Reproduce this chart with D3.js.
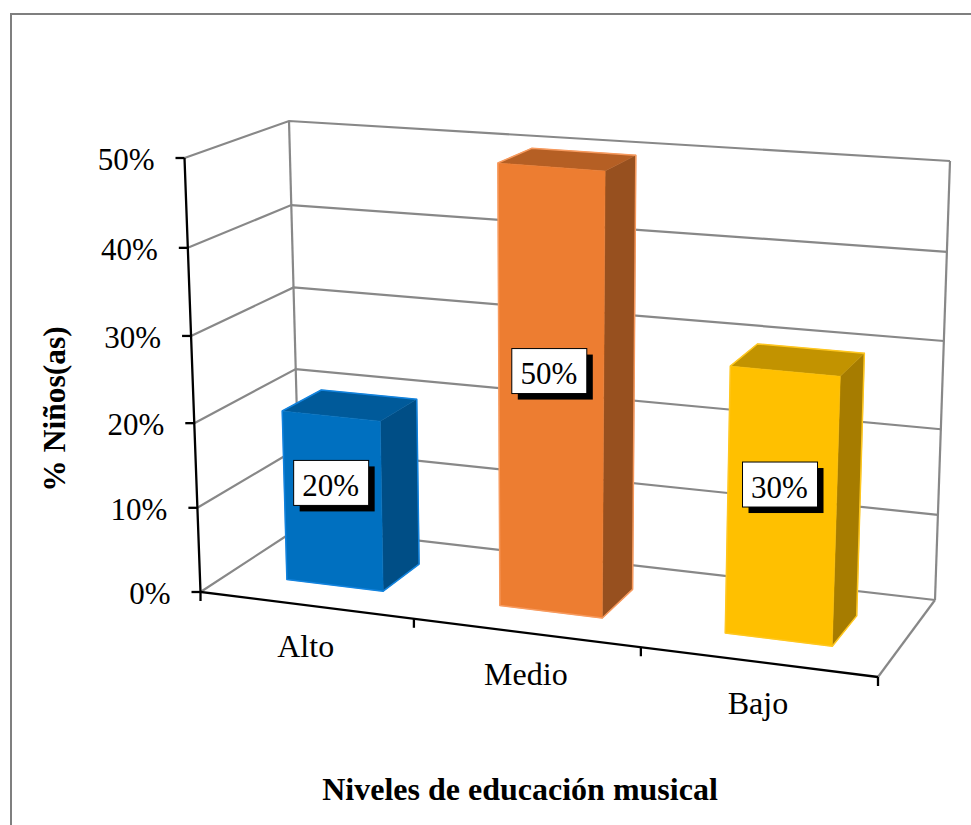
<!DOCTYPE html>
<html>
<head>
<meta charset="utf-8">
<script src="https://cdn.jsdelivr.net/npm/d3@7/dist/d3.min.js"></script>
<style>
html,body{margin:0;padding:0;background:#fff;}
svg{display:block;}
text{font-family:"Liberation Serif","Times New Roman",serif;fill:#000;}
</style>
</head>
<body>
<svg id="c" width="971" height="825"></svg>
<script>
// Data
const categories = ["Alto","Medio","Bajo"];
const values = [20,50,30];
const valueTicks = [0,10,20,30,40,50];
const faceColors = ["#0070C0","#ED7D31","#FFC000"];
const topColors = ["#005A9A","#B55F24","#C29300"];
const sideColors = ["#004E86","#97501F","#A67C00"];
const edgeColors = ["#1283DE","#F79A5E","#FFC71F"];
const xTitle = "Niveles de educación musical";
const yTitle = "% Niños(as)";

const W = 971, H = 825;
const svg = d3.select("#c");

// Scales: category -> fraction along the floor, value -> fraction of wall height
const uScale = d3.scaleLinear().domain([0,1,2,3]).range([0,0.315,0.65,1]);
const tScale = d3.scaleLinear().domain(valueTicks).range([0,0.194,0.389,0.59,0.793,1]);
const labelLift = d3.scaleLinear().domain([20,30,50]).range([18,22.5,23]);

// Perspective box (pixel corners of the 3D chart frame)
const box = {
  floor:{ fl:[200.5,592], fr:[878,677], bl:[300,527], br:[935,600] },
  ceil: { fl:[184.5,158], fr:[895,215], bl:[289,121], br:[950,161] }
};
const lerp = (a,b,t)=>[a[0]+(b[0]-a[0])*t, a[1]+(b[1]-a[1])*t];
function project(c,v,z,gain=0){
  const u = uScale(c);
  const t = tScale(v)*(1+gain);
  const corner = k => lerp(box.floor[k],box.ceil[k],t);
  const front = lerp(corner("fl"),corner("fr"),u);
  const back = lerp(corner("bl"),corner("br"),u);
  return lerp(front,back,z);
}
const barGain = z => 0.016*(1-z);
const line = d3.line();
const closed = pts => line(pts)+"Z";

// Walls
const gray = "#888888";
const walls = svg.append("g").attr("fill","none").attr("stroke",gray).attr("stroke-width",2.2);
valueTicks.forEach(v=>{
  walls.append("path").attr("d",line([project(0,v,0),project(0,v,1),project(3,v,1)]));
});
walls.append("path").attr("d",line([project(0,0,1),project(0,50,1)]));
walls.append("path").attr("d",line([project(3,0,1),project(3,50,1)]));
walls.append("path").attr("d",line([project(3,0,1),project(3,0,0)]));

// Bars
const halfW = 0.23, z0 = 0.3, z1 = 0.7;
const bars = svg.append("g").attr("stroke-linejoin","round");
categories.forEach((cat,i)=>{
  const c0 = i+0.5-halfW, c1 = i+0.5+halfW, v = values[i];
  const P = (c,val,z)=>project(c,val,z,barGain(z));
  const g = bars.append("g");
  g.append("path").attr("fill",sideColors[i]).attr("stroke",sideColors[i]).attr("stroke-width",0.5)
    .attr("d",closed([P(c1,0,z0),P(c1,0,z1),P(c1,v,z1),P(c1,v,z0)]));
  g.append("path").attr("fill",topColors[i]).attr("stroke",topColors[i]).attr("stroke-width",0.5)
    .attr("d",closed([P(c0,v,z0),P(c1,v,z0),P(c1,v,z1),P(c0,v,z1)]));
  g.append("path").attr("fill",faceColors[i]).attr("stroke",faceColors[i]).attr("stroke-width",0.5)
    .attr("d",closed([P(c0,0,z0),P(c1,0,z0),P(c1,v,z0),P(c0,v,z0)]));
  g.append("path").attr("fill","none").attr("stroke",edgeColors[i]).attr("stroke-width",1.5)
    .attr("d",closed([P(c0,0,z0),P(c1,0,z0),P(c1,0,z1),P(c1,v,z1),P(c0,v,z1),P(c0,v,z0)]));
});

// Axes
const axes = svg.append("g").attr("fill","none").attr("stroke","#000").attr("stroke-width",2.3);
axes.append("path").attr("d",line([project(0,50,0),project(0,0,0),project(3,0,0)]));
valueTicks.forEach(v=>{
  const p = project(0,v,0);
  axes.append("path").attr("d",line([[p[0]-9,p[1]],[p[0],p[1]]]));
});
d3.range(0,4).forEach(c=>{
  const p = project(c,0,0);
  axes.append("path").attr("d",line([p,[p[0],p[1]+9]]));
});

// Value tick labels
const tickSize = 31, catSize = 32, titleSize = 32;
svg.append("g").selectAll("text").data(valueTicks).join("text")
  .attr("text-anchor","end").attr("font-size",tickSize)
  .attr("x",v=>project(0,v,0)[0]-30)
  .attr("y",v=>project(0,v,0)[1]+12)
  .text(v=>v+"%");

// Category labels
svg.append("g").selectAll("text").data(categories).join("text")
  .attr("text-anchor","middle").attr("font-size",catSize)
  .attr("x",(d,i)=>project(i+0.5,0,0)[0]-1.5)
  .attr("y",(d,i)=>project(i+0.5,0,0)[1]+52)
  .text(d=>d);

// Data labels
const labW = 75, labH = 45, shadow = 6;
const labels = svg.append("g");
categories.forEach((cat,i)=>{
  const p = project(i+0.5,values[i]/2,z0,barGain(z0));
  const cx = p[0]-2, cy = p[1]-labelLift(values[i]);
  labels.append("rect").attr("x",cx-labW/2+shadow).attr("y",cy-labH/2+shadow)
    .attr("width",labW).attr("height",labH).attr("fill","#000");
  labels.append("rect").attr("x",cx-labW/2).attr("y",cy-labH/2)
    .attr("width",labW).attr("height",labH).attr("fill","#fff").attr("stroke","#000").attr("stroke-width",1);
  labels.append("text").attr("x",cx-0.5).attr("y",cy+13).attr("text-anchor","middle")
    .attr("font-size",tickSize).text(values[i]+"%");
});

// Titles
svg.append("text").attr("x",520).attr("y",800).attr("text-anchor","middle")
  .attr("font-size",titleSize).attr("font-weight","bold").text(xTitle);
svg.append("text").attr("transform","translate(65,409) rotate(-90)").attr("text-anchor","middle")
  .attr("font-size",31.5).attr("font-weight","bold").text(yTitle);

// Outer frame
svg.append("path").attr("fill","none").attr("stroke","#7f7f7f").attr("stroke-width",2)
  .attr("d",line([[11,H],[11,14],[W,14]]));
</script>
</body>
</html>
